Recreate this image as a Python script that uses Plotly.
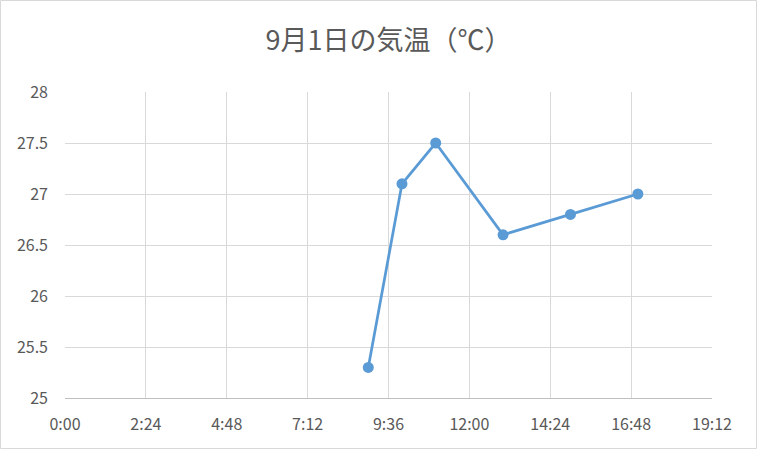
import plotly.graph_objects as go

times = ["2020-09-01 09:00", "2020-09-01 10:00", "2020-09-01 11:00",
         "2020-09-01 13:00", "2020-09-01 15:00", "2020-09-01 17:00"]
temps = [25.3, 27.1, 27.5, 26.6, 26.8, 27.0]
title_text = "9月1日の気温（℃）"

W, H = 757, 449
L, R, T, B = 65, 45, 92, 51
pw, ph = W - L - R, H - T - B

fig = go.Figure()
fig.add_trace(go.Scatter(
    x=times, y=temps, mode="lines+markers",
    line=dict(color="#5b9bd5", width=2.75),
    marker=dict(color="#5b9bd5", size=11),
))

tickfont = dict(family="Noto Sans CJK JP, sans-serif", size=16, color="#595959")
fig.update_layout(
    width=W, height=H,
    margin=dict(l=L, r=R, t=T, b=B),
    paper_bgcolor="white", plot_bgcolor="white",
    showlegend=False,
    title=dict(text=title_text, x=0.5, xref="paper", xanchor="center", y=1 - 41 / H, yanchor="middle",
               font=dict(family="Noto Sans CJK JP, sans-serif", size=27, color="#595959")),
    xaxis=dict(
        type="date",
        range=["2020-09-01 00:00", "2020-09-01 19:12"],
        tick0="2020-09-01 00:00", dtick=8640000,
        tickformat="%-H:%M",
        showgrid=True, gridcolor="#d9d9d9", gridwidth=1,
        showline=True, linecolor="#bfbfbf", linewidth=1,
        ticks="", tickfont=tickfont, zeroline=False,
        ticklabelstandoff=12,
    ),
    yaxis=dict(
        range=[25, 28], dtick=0.5,
        showgrid=True, gridcolor="#d9d9d9", gridwidth=1,
        showline=False, ticks="", tickfont=tickfont, zeroline=False,
        ticklabelstandoff=16,
    ),
    shapes=[dict(type="rect", xref="paper", yref="paper",
                 x0=-(L - 0.5) / pw, x1=1 + (R - 0.5) / pw,
                 y0=-(B - 0.5) / ph, y1=1 + (T - 0.5) / ph,
                 line=dict(color="#d9d9d9", width=1), layer="below")],
)

fig.write_html("out.html", config={"displayModeBar": False},
               post_script="document.body.style.margin='0';")
